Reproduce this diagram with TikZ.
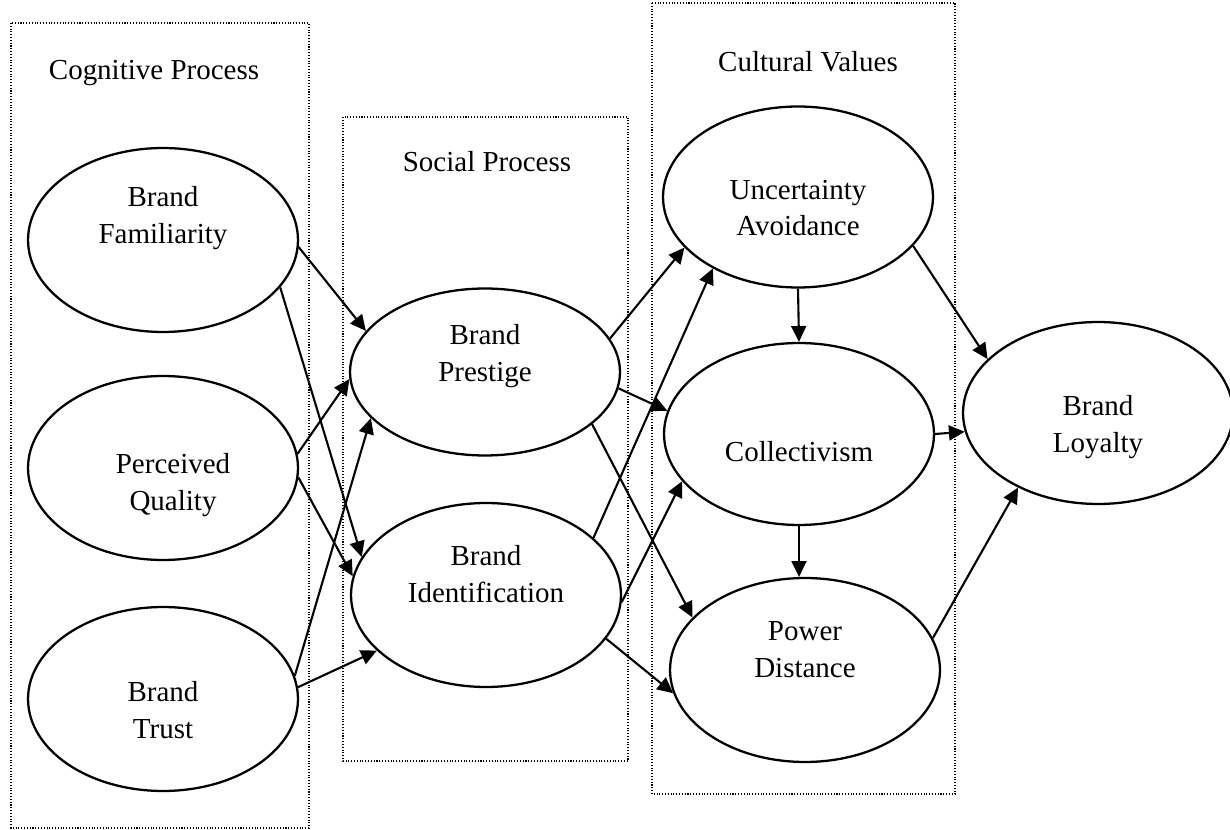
\documentclass[tikz,border=0pt]{standalone}
\usepackage{fontspec}
\setmainfont{Liberation Serif}
\usetikzlibrary{arrows.meta,shapes.geometric}

\begin{document}
\begin{tikzpicture}[x=0.02cm, y=-0.02cm,
                    every node/.style={font=\fontsize{16.5}{21}\selectfont},
                    oval/.style={ellipse, draw, line width=1.3pt, minimum width=5.4cm, minimum height=3.68cm, inner sep=0pt},
                    lbl/.style={align=center},
                    group/.style={densely dotted, line width=0.6pt},
                    arrow/.style={line width=1.2pt, -{Triangle[length=9pt, width=8.5pt]}}]

\useasboundingbox (0,0) rectangle (1230,830);

% Groups
\draw[group] (11,23) rectangle (309,828);
\draw[group] (343,117) rectangle (628,761);
\draw[group] (652,3) rectangle (955,794);
\node (cogtitle) at (154,73) {Cognitive Process};
\node (soctitle) at (487,162) {Social Process};
\node (culttitle) at (808,62) {Cultural Values};

% Cognitive process
\node[oval, label={[lbl, yshift=12.5pt]center:{Brand\\Familiarity}}] (fam) at (163,240) {};
\node[oval, label={[lbl, xshift=5.7pt, yshift=-9.7pt]center:{Perceived\\Quality}}] (pq) at (163,468) {};
\node[oval, label={[lbl, yshift=-6.3pt]center:{Brand\\Trust}}] (trust) at (163,699) {};

% Social process
\node[oval, minimum height=3.34cm, label={[lbl, yshift=9pt]center:{Brand\\Prestige}}] (pres) at (485,372) {};
\node[oval, label={[lbl, yshift=12pt]center:{Brand\\Identification}}] (ident) at (486,595) {};

% Cultural values
\node[oval, minimum height=3.62cm, label={[lbl, yshift=-6.3pt]center:{Uncertainty\\Avoidance}}] (ua) at (798,197) {};
\node[oval, minimum height=3.64cm, label={[lbl, yshift=-10pt]center:Collectivism}] (coll) at (799,434) {};
\node[oval, label={[lbl, yshift=11.4pt]center:{Power\\Distance}}] (pd) at (805,670) {};

% Outcome
\node[oval, minimum height=3.64cm, label={[lbl, yshift=-8pt]center:{Brand\\Loyalty}}] (bl) at (1098,413) {};

% Paths
\foreach \a/\b in {fam.-3/pres.161, fam.-22/ident.163, pq.6/pres.183, pq.-4/ident.172,
                   trust.10/pres.202, trust.5/ident.207,
                   pres.15/ua.204, pres.-7/coll.170, pres.-26/pd.155,
                   ident.28/ua.220, ident.-3/coll.202, ident.-20/pd.190,
                   ua.-23/bl.154, coll.east/bl.188, pd.14/bl.223} {
    \draw[arrow] (\a) -- (\b);
}
\draw[arrow] (ua.south) -- (coll.north);
\draw[arrow] (coll.south) -- (pd.north -| coll.south);

\end{tikzpicture}
\end{document}
